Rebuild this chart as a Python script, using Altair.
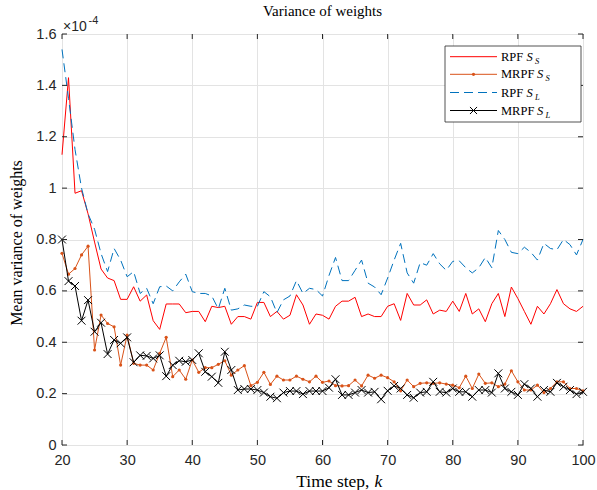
import altair as alt
import pandas as pd

# ---------------- data (values in units of 1e-4) ----------------
k = list(range(20, 101))

rpf_ss = [1.13, 1.43, 0.98, 0.99, 0.90, 0.79, 0.685, 0.65, 0.64, 0.567,
          0.567, 0.616, 0.56, 0.584, 0.484, 0.45, 0.549, 0.549, 0.549, 0.515,
          0.52, 0.52, 0.48, 0.54, 0.535, 0.54, 0.47, 0.50, 0.50, 0.49,
          0.555, 0.555, 0.50, 0.52, 0.49, 0.505, 0.585, 0.545, 0.47, 0.51,
          0.505, 0.49, 0.54, 0.56, 0.56, 0.575, 0.50, 0.51, 0.50, 0.50,
          0.54, 0.55, 0.485, 0.59, 0.545, 0.545, 0.565, 0.51, 0.525, 0.52,
          0.56, 0.52, 0.59, 0.51, 0.53, 0.48, 0.55, 0.59, 0.50, 0.615,
          0.57, 0.52, 0.47, 0.54, 0.51, 0.55, 0.605, 0.55, 0.53, 0.52,
          0.54]

mrpf_ss = [0.746, 0.665, 0.687, 0.74, 0.774, 0.37, 0.506, 0.473, 0.46, 0.311,
           0.428, 0.318, 0.311, 0.311, 0.292, 0.357, 0.419, 0.266, 0.292, 0.256,
           0.331, 0.283, 0.301, 0.301, 0.314, 0.328, 0.272, 0.292, 0.309, 0.231,
           0.244, 0.283, 0.236, 0.268, 0.253, 0.253, 0.268, 0.256, 0.246, 0.268,
           0.244, 0.249, 0.231, 0.23, 0.231, 0.253, 0.23, 0.272, 0.26, 0.272,
           0.262, 0.246, 0.211, 0.253, 0.227, 0.24, 0.242, 0.24, 0.242, 0.237,
           0.233, 0.223, 0.268, 0.22, 0.276, 0.24, 0.242, 0.227, 0.237, 0.289,
           0.246, 0.214, 0.214, 0.233, 0.204, 0.22, 0.246, 0.246, 0.22, 0.22,
           0.211]

rpf_sl = [1.54, 1.35, 1.15, 1.0, 0.90, 0.84, 0.745, 0.675, 0.765, 0.72,
          0.655, 0.675, 0.59, 0.61, 0.55, 0.616, 0.619, 0.60, 0.635, 0.665,
          0.597, 0.59, 0.59, 0.58, 0.53, 0.61, 0.525, 0.53, 0.545, 0.54,
          0.54, 0.597, 0.577, 0.515, 0.565, 0.58, 0.64, 0.59, 0.61, 0.605,
          0.58, 0.66, 0.73, 0.64, 0.64, 0.68, 0.72, 0.63, 0.615, 0.585,
          0.65, 0.72, 0.785, 0.67, 0.63, 0.71, 0.70, 0.745, 0.705, 0.68,
          0.715, 0.717, 0.69, 0.67, 0.69, 0.73, 0.69, 0.835, 0.80, 0.75,
          0.745, 0.77, 0.75, 0.72, 0.785, 0.765, 0.76, 0.80, 0.78, 0.74,
          0.80]

mrpf_sl = [0.80, 0.638, 0.619, 0.484, 0.564, 0.441, 0.476, 0.354, 0.409, 0.396,
           0.419, 0.322, 0.349, 0.347, 0.337, 0.349, 0.268, 0.311, 0.328, 0.324,
           0.331, 0.357, 0.285, 0.266, 0.242, 0.363, 0.292, 0.214, 0.218, 0.218,
           0.214, 0.204, 0.188, 0.182, 0.204, 0.21, 0.21, 0.198, 0.21, 0.21,
           0.21, 0.223, 0.256, 0.195, 0.195, 0.204, 0.214, 0.204, 0.207, 0.178,
           0.211, 0.23, 0.22, 0.195, 0.184, 0.204, 0.207, 0.246, 0.207, 0.204,
           0.22, 0.207, 0.207, 0.188, 0.214, 0.214, 0.204, 0.279, 0.22, 0.207,
           0.195, 0.237, 0.22, 0.188, 0.214, 0.207, 0.242, 0.227, 0.214, 0.198,
           0.207]

x_ticks = [20, 30, 40, 50, 60, 70, 80, 90, 100]
y_ticks = [0, 0.2, 0.4, 0.6, 0.8, 1.0, 1.2, 1.4, 1.6]

title_text = "Variance of weights"
x_title = "Time step,"
x_title_var = "k"
y_title = "Mean variance of weights"
exp_base = "\u00d710"
exp_pow = "-4"

legend_method = ["RPF", "MRPF", "RPF", "MRPF"]
legend_sub = ["S", "S", "L", "L"]

# ---------------- styling ----------------
W, H = 521, 411
RED = "#FF0000"
ORANGE = "#D95319"
BLUE = "#0072BD"
BLACK = "#000000"
AX = "#262626"
SERIF = "Liberation Serif"
SANS = "Liberation Sans"

df = pd.DataFrame({"k": k, "rpf_ss": rpf_ss, "mrpf_ss": mrpf_ss,
                   "rpf_sl": rpf_sl, "mrpf_sl": mrpf_sl})
one = pd.DataFrame({"d": [0]})

xs = alt.Scale(domain=[20, 100], nice=False, zero=False)
ys = alt.Scale(domain=[0, 1.6], nice=False)

xax = alt.Axis(values=x_ticks, ticks=False, domain=False, grid=True,
               gridColor="#E3E3E3", gridWidth=1, labelFont=SANS,
               labelFontSize=14.5, labelColor=AX, labelPadding=8,
               labelFlush=False, labelOverlap=False, title=None)
yax = alt.Axis(values=y_ticks, ticks=False, domain=False, grid=True,
               gridColor="#E3E3E3", gridWidth=1, labelFont=SANS,
               labelFontSize=14.5, labelColor=AX, labelPadding=6,
               labelFlush=False, labelOverlap=False,
               format=".1~f", title=None)

base = alt.Chart(df)
X = alt.X("k:Q", scale=xs, axis=xax)
Y = lambda f: alt.Y(f"{f}:Q", scale=ys, axis=yax)

XSHAPE = "M-1,-1L1,1M-1,1L1,-1"
l_rpf_ss = base.mark_line(color=RED, strokeWidth=1).encode(x=X, y=Y("rpf_ss"))
l_mrpf_ss = base.mark_line(color=ORANGE, strokeWidth=1).encode(x=X, y=Y("mrpf_ss"))
p_mrpf_ss = base.mark_point(color=ORANGE, filled=True, size=10, opacity=1).encode(x=X, y=Y("mrpf_ss"))
l_rpf_sl = base.mark_line(color=BLUE, strokeWidth=1, strokeDash=[9, 5]).encode(x=X, y=Y("rpf_sl"))
l_mrpf_sl = base.mark_line(color=BLACK, strokeWidth=1).encode(x=X, y=Y("mrpf_sl"))
p_mrpf_sl = base.mark_point(shape=XSHAPE, color=BLACK, filled=False, size=62,
                            strokeWidth=1, opacity=1).encode(x=X, y=Y("mrpf_sl"))

# inward ticks on all four sides
xt = alt.Chart(pd.DataFrame({"t": x_ticks}))
yt = alt.Chart(pd.DataFrame({"t": y_ticks}))
tick_b = xt.mark_rule(color=AX, strokeWidth=1).encode(x=alt.X("t:Q", scale=xs), y=alt.value(H), y2=alt.value(H - 5))
tick_t = xt.mark_rule(color=AX, strokeWidth=1).encode(x=alt.X("t:Q", scale=xs), y=alt.value(0), y2=alt.value(5))
tick_l = yt.mark_rule(color=AX, strokeWidth=1).encode(y=alt.Y("t:Q", scale=ys), x=alt.value(0), x2=alt.value(5))
tick_r = yt.mark_rule(color=AX, strokeWidth=1).encode(y=alt.Y("t:Q", scale=ys), x=alt.value(W), x2=alt.value(W - 5))

# titles / annotations
o = alt.Chart(one)
t_title = o.mark_text(text=title_text, font=SERIF, fontSize=15, color=BLACK,
                      align="center", baseline="middle").encode(x=alt.value(W / 2), y=alt.value(-23))
XT_SPLIT = W / 2 + 47
t_xt = o.mark_text(text=x_title, font=SERIF, fontSize=17.5, color=BLACK,
                   align="right", baseline="middle").encode(x=alt.value(XT_SPLIT), y=alt.value(448))
t_xk = o.mark_text(text=x_title_var, font=SERIF, fontSize=17.5, fontStyle="italic", color=BLACK,
                   align="left", baseline="middle").encode(x=alt.value(XT_SPLIT + 5), y=alt.value(448))
t_yt = o.mark_text(text=y_title, font=SERIF, fontSize=16, color=BLACK, angle=270,
                   align="center", baseline="middle").encode(x=alt.value(-45), y=alt.value(209))
t_e1 = o.mark_text(text=exp_base, font=SANS, fontSize=14, color=AX,
                   align="left", baseline="alphabetic").encode(x=alt.value(1), y=alt.value(-3))
t_e2 = o.mark_text(text=exp_pow, font=SANS, fontSize=11, color=AX,
                   align="left", baseline="alphabetic").encode(x=alt.value(26.5), y=alt.value(-10))

# legend
LX0, LX1, LY0, LY1 = 383, 519, 12, 88
rows = [22.7, 40.3, 58.5, 76.5]
leg = [o.mark_rect(fill="white", stroke=AX, strokeWidth=0.8).encode(
    x=alt.value(LX0), x2=alt.value(LX1), y=alt.value(LY0), y2=alt.value(LY1))]
styles = [dict(color=RED), dict(color=ORANGE), dict(color=BLUE, strokeDash=[9, 5]), dict(color=BLACK)]
for i, ry in enumerate(rows):
    leg.append(o.mark_rule(strokeWidth=1, **styles[i]).encode(
        x=alt.value(388), x2=alt.value(435), y=alt.value(ry)))
    leg.append(o.mark_text(text=legend_method[i], font=SERIF, fontSize=12.5, color=BLACK,
                           align="left", baseline="middle").encode(x=alt.value(439), y=alt.value(ry)))
    sx = 464.5 if legend_method[i] == "RPF" else 475
    leg.append(o.mark_text(text="S", font=SERIF, fontSize=12.5, fontStyle="italic", color=BLACK,
                           align="left", baseline="middle").encode(x=alt.value(sx), y=alt.value(ry)))
    leg.append(o.mark_text(text=legend_sub[i], font=SERIF, fontSize=8.5, fontStyle="italic", color=BLACK,
                           align="left", baseline="middle").encode(x=alt.value(sx + 8.5), y=alt.value(ry + 4)))
leg.append(o.mark_point(color=ORANGE, filled=True, size=10, opacity=1).encode(
    x=alt.value(411.5), y=alt.value(rows[1])))
leg.append(o.mark_point(shape=XSHAPE, color=BLACK, filled=False, size=50, strokeWidth=1, opacity=1).encode(
    x=alt.value(411.5), y=alt.value(rows[3])))

chart = alt.layer(
    l_rpf_ss, l_mrpf_ss, p_mrpf_ss, l_rpf_sl, l_mrpf_sl, p_mrpf_sl,
    tick_b, tick_t, tick_l, tick_r,
    t_title, t_xt, t_xk, t_yt, t_e1, t_e2,
    *leg
).properties(
    width=W, height=H,
    autosize=alt.AutoSizeParams(type="none"),
    padding={"left": 62, "top": 34, "right": 14, "bottom": 45},
    background="white",
).configure_view(stroke=AX, strokeWidth=1)

chart.save("out.html", embed_options={"renderer": "svg", "actions": False})
